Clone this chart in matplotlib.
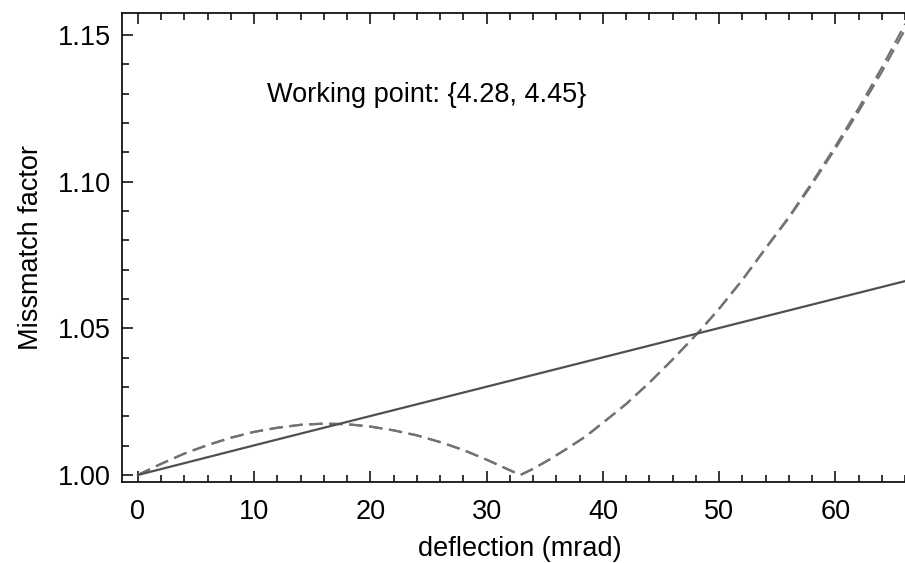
import numpy as np
import matplotlib
matplotlib.use('Agg')
import matplotlib.pyplot as plt
from matplotlib.ticker import MultipleLocator

plt.rcParams['font.family'] = ['Liberation Sans', 'DejaVu Sans']

# linear mismatch
solid_x = [0, 11, 22, 33, 44, 55, 66]
solid_y = [1.0, 1.0111, 1.0221, 1.0331, 1.0441, 1.0551, 1.0661]

# mismatch factor along deflection (first set)
dash_x = [0, 2, 4, 6, 8, 10, 12, 14, 16, 18, 20, 22, 24, 26, 28, 30, 32, 32.9,
          34, 35.5, 37, 38.5, 40, 42, 44, 46, 48.3, 50, 52, 54, 56, 58, 60,
          62, 64, 66]
dash_y = [1.0, 1.0038, 1.0073, 1.0102, 1.0127, 1.0147, 1.0161, 1.0171, 1.0175,
          1.0173, 1.0165, 1.0152, 1.0135, 1.0112, 1.0085, 1.0052, 1.0016, 1.0,
          1.0021, 1.0055, 1.0092, 1.0131, 1.0178, 1.0242, 1.0315, 1.0394,
          1.0490, 1.0567, 1.0665, 1.0772, 1.0877, 1.0992, 1.1113, 1.1240,
          1.1375, 1.1520]

# second set, splits off at large deflection
dash2_y = [1.0, 1.0038, 1.0073, 1.0102, 1.0127, 1.0147, 1.0161, 1.0171, 1.0175,
           1.0173, 1.0165, 1.0152, 1.0135, 1.0112, 1.0085, 1.0052, 1.0016, 1.0,
           1.0021, 1.0055, 1.0092, 1.0131, 1.0178, 1.0242, 1.0315, 1.0394,
           1.0490, 1.0567, 1.0666, 1.0774, 1.0880, 1.0998, 1.1121, 1.1251,
           1.1390, 1.1538]

fig = plt.figure(figsize=(9.05, 5.63), dpi=100)
ax = fig.add_axes([122 / 905, 81 / 563, (918 - 122) / 905, (482 - 13) / 563])

ax.plot(dash_x, dash_y, color='#727272', lw=1.6, dashes=(6, 3))
ax.plot(dash_x, dash2_y, color='#727272', lw=1.6, dashes=(6, 3))
ax.plot(solid_x, solid_y, color='#505050', lw=1.6)

ax.set_xlim(-1.37, 67.1)
ax.set_ylim(0.9976, 1.1575)

ax.xaxis.set_major_locator(MultipleLocator(10))
ax.xaxis.set_minor_locator(MultipleLocator(2))
ax.yaxis.set_major_locator(MultipleLocator(0.05))
ax.yaxis.set_minor_locator(MultipleLocator(0.01))
ax.yaxis.set_major_formatter(plt.FormatStrFormatter('%.2f'))

ax.tick_params(which='both', direction='in', top=True, right=True,
               width=1.1, labelsize=19.5, colors='black')
ax.tick_params(axis='x', which='major', length=8, pad=12)
ax.tick_params(axis='y', which='major', length=8, pad=8)
ax.tick_params(which='minor', length=5)

for s in ax.spines.values():
    s.set_linewidth(1.2)

ax.text(11.08, 1.1296, 'Working point: {4.28, 4.45}', fontsize=19.5,
        ha='left', va='center')

ax.set_xlabel('deflection (mrad)', fontsize=19.5, labelpad=8)
ax.set_ylabel('Missmatch factor', fontsize=19.5, labelpad=10)

fig.savefig('out.png', dpi=100)
